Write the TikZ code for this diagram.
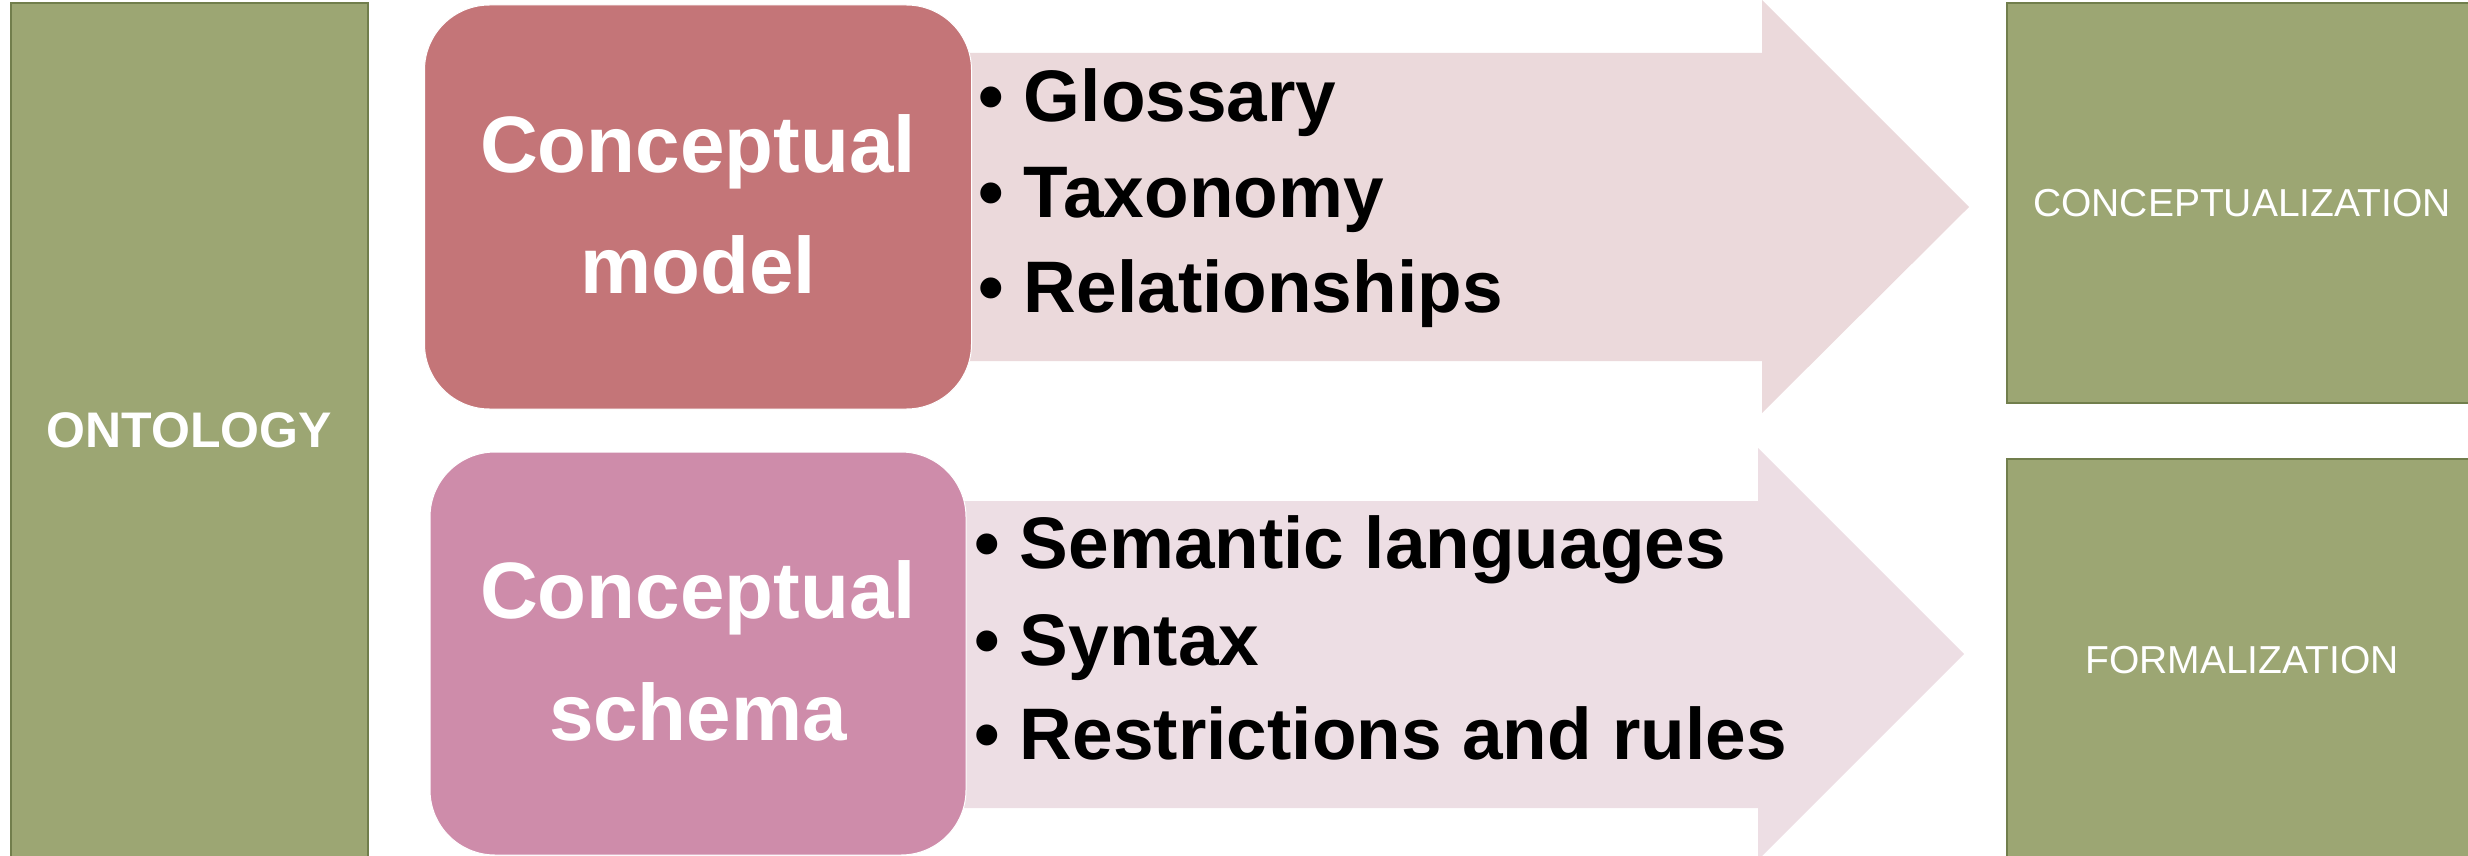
\documentclass[tikz,border=0pt]{standalone}
\usepackage{fontspec}
\setmainfont{Liberation Sans}
\definecolor{olive}{HTML}{9CA673}
\definecolor{olivedark}{HTML}{717E4C}
\definecolor{cmred}{HTML}{C47578}
\definecolor{cspink}{HTML}{CE8CAA}
\definecolor{arrowA}{HTML}{EBD9DB}
\definecolor{arrowB}{HTML}{EDDEE4}
\begin{document}
\begin{tikzpicture}[x=1pt,y=-1pt,
  greenbox/.style={draw=olivedark,line width=1.5pt,fill=olive,text=white,inner sep=0pt},
  roundbox/.style={draw=white,line width=1pt,rounded corners=65pt,inner sep=0pt},
  boxtext/.style={text=white,inner sep=0pt,anchor=base,font=\bfseries\fontsize{80}{121}\selectfont},
  itemtext/.style={anchor=base west,inner sep=0pt,font=\bfseries\fontsize{73}{95}\selectfont}]
\useasboundingbox (0,0) rectangle (2468,856);
\clip (0,0) rectangle (2468,856);
% arrows
\fill[arrowA] (700,53) -- (1762,53) -- (1762,0) -- (1969,207) -- (1762,413) -- (1762,361) -- (700,361) -- cycle;
\fill[arrowB] (700,501) -- (1758,501) -- (1758,448) -- (1964,654) -- (1758,860) -- (1758,808) -- (700,808) -- cycle;
% left box
\node[greenbox,minimum width=357pt,minimum height=855pt,font=\bfseries\fontsize{50}{58}\selectfont] (ont) at (189.5,430.5) {ONTOLOGY};
% rounded boxes
\node[roundbox,fill=cmred,minimum width=547pt,minimum height=404pt] (cm) at (698,207) {};
\node[boxtext] (cmA) at (698,172) {Conceptual};
\node[boxtext] (cmB) at (698,293) {model};
\node[roundbox,fill=cspink,minimum width=536pt,minimum height=403pt] (cs) at (698,653.5) {};
\node[boxtext] (csA) at (698,618) {Conceptual};
\node[boxtext] (csB) at (698,740) {schema};
% bullet items
\node[itemtext] (i1) at (978,122) {• Glossary};
\node[itemtext] (i2) at (978,217) {• Taxonomy};
\node[itemtext] (i3) at (978,312) {• Relationships};
\node[itemtext] (j1) at (974,568) {• Semantic languages};
\node[itemtext] (j2) at (974,665) {• Syntax};
\node[itemtext] (j3) at (974,759) {• Restrictions and rules};
% right boxes
\node[greenbox,minimum width=470pt,minimum height=400pt,font=\fontsize{39}{44}\selectfont] (conc) at (2242,203) {CONCEPTUALIZATION};
\node[greenbox,minimum width=470pt,minimum height=402pt,font=\fontsize{39}{44}\selectfont] (form) at (2242,660) {FORMALIZATION};
\end{tikzpicture}
\end{document}
